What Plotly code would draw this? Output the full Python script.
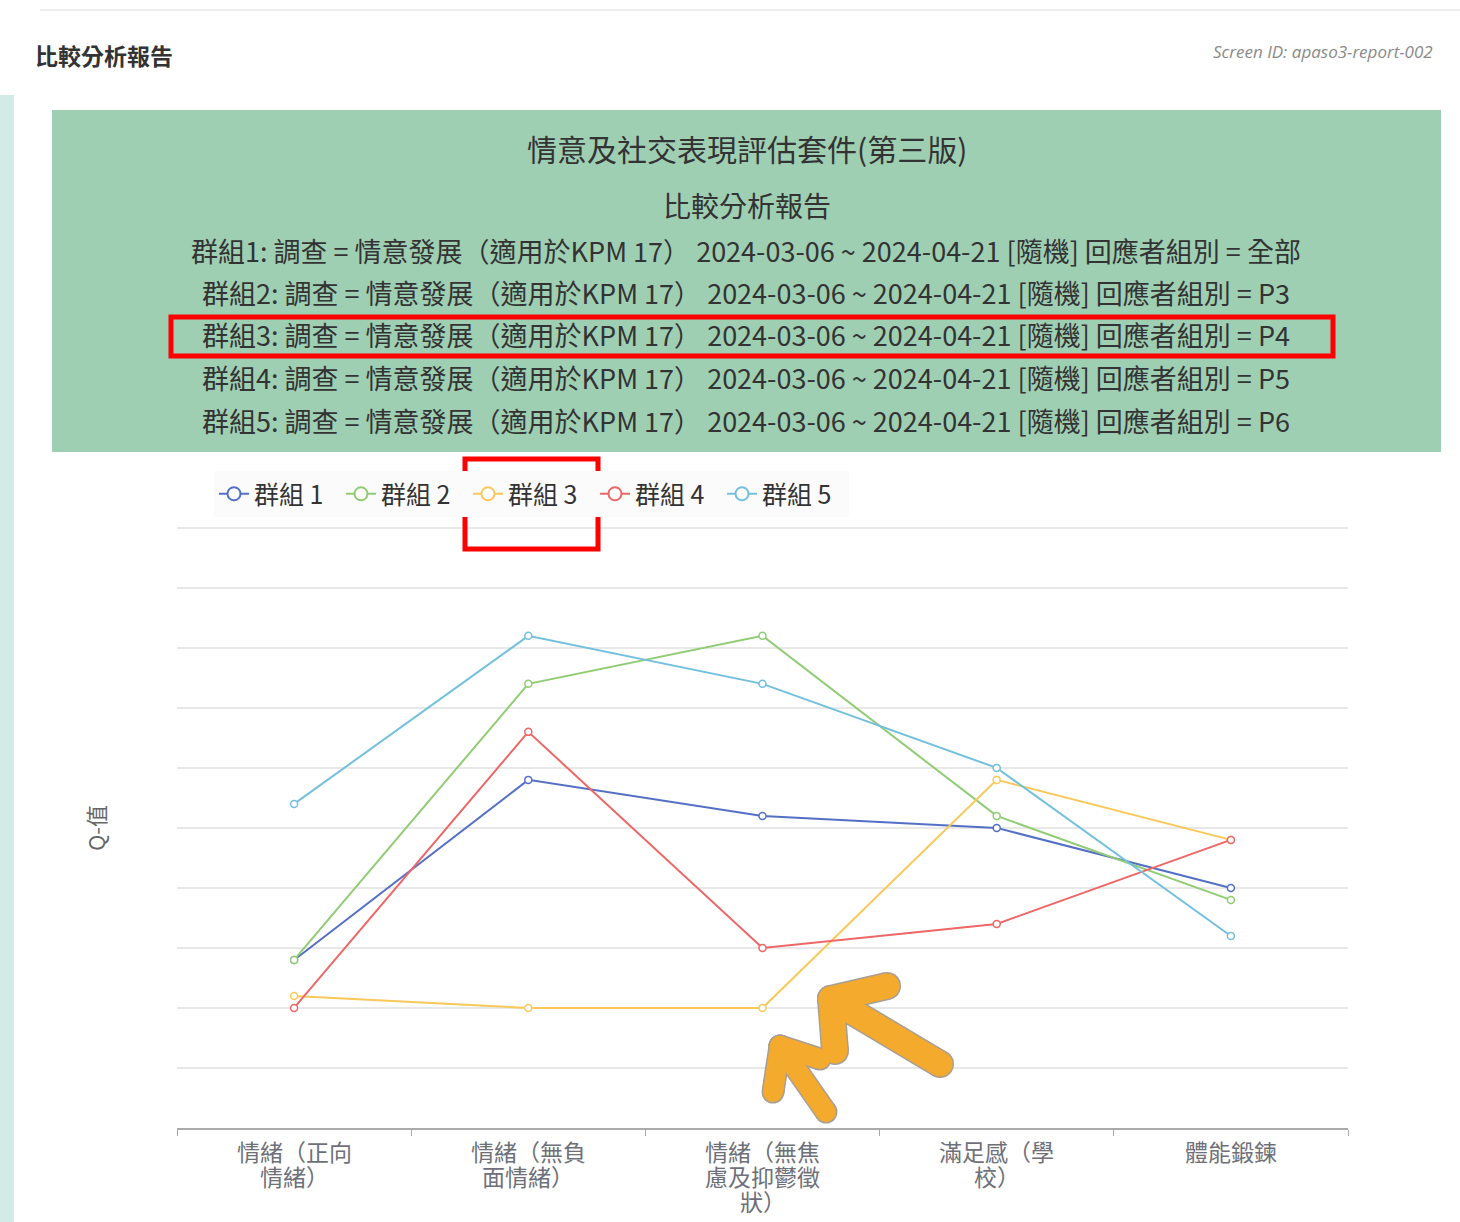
import plotly.graph_objects as go

W, H = 1460, 1222

# ── data (y axis has no tick labels, grid step = 1) ──
categories = ["情緒（正向\n情緒）", "情緒（無負\n面情緒）", "情緒（無焦\n慮及抑鬱徵\n狀）",
              "滿足感（學\n校）", "體能鍛鍊"]
cat_keys = ["c1", "c2", "c3", "c4", "c5"]

group_names = ["群組 1", "群組 2", "群組 3", "群組 4", "群組 5"]
group1 = [2.8, 5.8, 5.2, 5.0, 4.0]
group2 = [2.8, 7.4, 8.2, 5.2, 3.8]
group3 = [2.2, 2.0, 2.0, 5.8, 4.8]
group4 = [2.0, 6.6, 3.0, 3.4, 4.8]
group5 = [5.4, 8.2, 7.4, 6.0, 3.2]
colors = ["#5470c6", "#91cc75", "#fac858", "#ee6666", "#73c0de"]

banner_lines = [
    "群組1: 調查 = 情意發展（適用於KPM 17） 2024-03-06 ~ 2024-04-21 [隨機] 回應者組別 = 全部",
    "群組2: 調查 = 情意發展（適用於KPM 17） 2024-03-06 ~ 2024-04-21 [隨機] 回應者組別 = P3",
    "群組3: 調查 = 情意發展（適用於KPM 17） 2024-03-06 ~ 2024-04-21 [隨機] 回應者組別 = P4",
    "群組4: 調查 = 情意發展（適用於KPM 17） 2024-03-06 ~ 2024-04-21 [隨機] 回應者組別 = P5",
    "群組5: 調查 = 情意發展（適用於KPM 17） 2024-03-06 ~ 2024-04-21 [隨機] 回應者組別 = P6",
]

FONT = "Noto Sans CJK TC, Noto Sans, sans-serif"


def px(x):
    return x / W


def py(y):
    return 1 - y / H


fig = go.Figure()

for name, vals, col in zip(group_names, [group1, group2, group3, group4, group5], colors):
    fig.add_trace(go.Scatter(
        x=cat_keys, y=vals, name=name, mode="lines+markers", legendgroup=name, showlegend=False,
        line=dict(color=col, width=2),
        marker=dict(symbol="circle", size=7, color="white", line=dict(color=col, width=1.5)),
    ))
    # legend-only entry with a bigger ring, like the echarts legend icon
    fig.add_trace(go.Scatter(
        x=[None], y=[None], name=name, mode="lines+markers", legendgroup=name,
        line=dict(color=col, width=2),
        marker=dict(symbol="circle", size=13, color="white", line=dict(color=col, width=2)),
    ))

# hand-drawn orange arrows (pixel-space overlay): shaft + two wing strokes from the tip
arrows = [
    ([831, 940], [999, 1064], 25),
    ([831, 887], [999, 986], 25),
    ([831, 835], [999, 1051], 25),
    ([780, 826], [1046, 1112], 20),
    ([780, 820], [1046, 1059], 20),
    ([780, 773], [1046, 1092], 20),
]
for xs, ys, w in arrows:
    fig.add_trace(go.Scatter(x=xs, y=ys, xaxis="x2", yaxis="y2", mode="lines+markers",
                             line=dict(color="#a89f94", width=w + 3),
                             marker=dict(size=w + 3, color="#a89f94"),
                             showlegend=False, hoverinfo="skip"))
for xs, ys, w in arrows:
    fig.add_trace(go.Scatter(x=xs, y=ys, xaxis="x2", yaxis="y2", mode="lines+markers",
                             line=dict(color="#f4aa2d", width=w),
                             marker=dict(size=w, color="#f4aa2d"),
                             showlegend=False, hoverinfo="skip"))

shapes = [
    dict(type="line", xref="paper", yref="paper", x0=px(40), x1=1, y0=py(10), y1=py(10),
         line=dict(color="#ececec", width=2), layer="below"),
    dict(type="rect", xref="paper", yref="paper", x0=0, x1=px(14), y0=0, y1=py(95),
         fillcolor="#d2ebe6", line=dict(width=0), layer="below"),
    dict(type="rect", xref="paper", yref="paper", x0=px(52), x1=px(1441), y0=py(452), y1=py(110),
         fillcolor="#9ecfb3", line=dict(width=0), layer="below"),
    dict(type="rect", xref="paper", yref="paper", x0=px(171), x1=px(1333), y0=py(356), y1=py(317),
         line=dict(color="#ff0000", width=5)),
    dict(type="rect", xref="paper", yref="paper", x0=px(465), x1=px(598), y0=py(549), y1=py(459),
         line=dict(color="#ff0000", width=5)),
]

annotations = [
    dict(text="<b>比較分析報告</b>", x=px(33), y=py(55), xanchor="left", yanchor="middle",
         font=dict(size=23, color="#333333", family=FONT)),
    dict(text="<i>Screen ID: apaso3-report-002</i>", x=px(1435), y=py(52), xanchor="right",
         yanchor="middle", font=dict(size=17, color="#8a8a8a", family="Open Sans, sans-serif")),
    dict(text="情意及社交表現評估套件(第三版)", x=px(747), y=py(148), xanchor="center",
         yanchor="middle", font=dict(size=30, color="#333333", family=FONT)),
    dict(text="比較分析報告", x=px(747), y=py(205), xanchor="center", yanchor="middle",
         font=dict(size=28, color="#333333", family=FONT)),
    dict(text="Q-值", x=px(95), y=py(828), xanchor="center", yanchor="middle", textangle=-90,
         font=dict(size=22, color="#666666", family=FONT)),
]
for i, line in enumerate(banner_lines):
    annotations.append(dict(text=line, x=px(746), y=py(250 + i * 42.5), xanchor="center",
                            yanchor="middle", font=dict(size=27, color="#333333", family=FONT)))
for a in annotations:
    a.update(xref="paper", yref="paper", showarrow=False)

# category labels, one annotation per line so the line spacing stays tight
for key, label in zip(cat_keys, categories):
    for j, part in enumerate(label.split("\n")):
        annotations.append(dict(text=part, x=key, xref="x", y=py(1151 + j * 25), yref="paper",
                                xanchor="center", yanchor="middle", showarrow=False,
                                font=dict(size=23, color="#6e7079", family=FONT)))

fig.update_layout(
    width=W, height=H,
    margin=dict(l=0, r=0, t=0, b=0),
    paper_bgcolor="white", plot_bgcolor="rgba(0,0,0,0)",
    font=dict(family=FONT),
    shapes=shapes,
    annotations=annotations,
    showlegend=True,
    legend=dict(orientation="h", x=px(214), y=py(494), xanchor="left", yanchor="middle",
                font=dict(size=25, color="#333333", family=FONT),
                bgcolor="#fbfbfb", entrywidth=82, entrywidthmode="pixels",
                itemclick=False),
    xaxis=dict(domain=[px(177), px(1348)], type="category", range=[-0.5, 4.5],
               tickmode="array", tickvals=cat_keys, showticklabels=False,
               tickson="boundaries", ticks="outside", ticklen=6, tickcolor="#aaaaaa",
               showline=True, linecolor="#aaaaaa", linewidth=2, showgrid=False),
    yaxis=dict(domain=[py(1128), py(526)], range=[0, 10.03], dtick=1, showticklabels=False,
               gridcolor="#e8e8e8", gridwidth=1.5, zeroline=False, showline=False),
    xaxis2=dict(domain=[0, 1], range=[0, W], visible=False, anchor="y2"),
    yaxis2=dict(domain=[0, 1], range=[H, 0], visible=False, anchor="x2"),
)

fig.write_html("out.html", config={"displayModeBar": False},
               post_script="document.body.style.margin='0';")
